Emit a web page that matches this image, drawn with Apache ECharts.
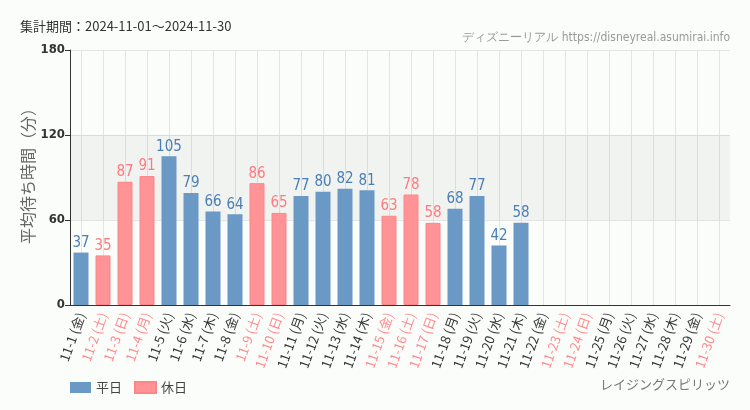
<!DOCTYPE html>
<html><head><meta charset="utf-8">
<script src="https://cdn.jsdelivr.net/npm/echarts@6/dist/echarts.min.js"></script>
<style>html,body{margin:0;padding:0;background:#fbfdfb;}#c{width:750px;height:410px;}</style>
</head><body><div id="c"></div>
<script>
const categories = ['11-1 (金)','11-2 (土)','11-3 (日)','11-4 (月)','11-5 (火)','11-6 (水)','11-7 (木)','11-8 (金)','11-9 (土)','11-10 (日)','11-11 (月)','11-12 (火)','11-13 (水)','11-14 (木)','11-15 (金)','11-16 (土)','11-17 (日)','11-18 (月)','11-19 (火)','11-20 (水)','11-21 (木)','11-22 (金)','11-23 (土)','11-24 (日)','11-25 (月)','11-26 (火)','11-27 (水)','11-28 (木)','11-29 (金)','11-30 (土)'];
const holidayFlags = [0,1,1,1,0,0,0,0,1,1,0,0,0,0,1,1,1,0,0,0,0,0,1,1,0,0,0,0,0,1];
const waitValues = [37,35,87,91,105,79,66,64,86,65,77,80,82,81,63,78,58,68,77,42,58,null,null,null,null,null,null,null,null,null];
const yTicks = [0,60,120,180];
const yAxisTitle = '平均待ち時間（分）';

const weekday = waitValues.map((v,i)=> holidayFlags[i] ? null : v);
const holiday = waitValues.map((v,i)=> holidayFlags[i] ? v : null);
const BLUE = '#6a99c5', PINK = '#ff9396';
const NARROW = '"Liberation Sans Narrow", "DejaVu Sans Condensed", "Roboto Condensed", Roboto, sans-serif';
const JP = '"Noto Sans CJK JP", sans-serif';
const chart = echarts.init(document.getElementById('c'));
chart.setOption({
  backgroundColor: '#fbfdfb',
  animation: false,
  title: [
    {text: '集計期間：2024-11-01～2024-11-30', left: 20, top: 20, padding: 0,
     textStyle: {fontSize: 13, fontWeight: 'normal', color: '#333', fontFamily: JP}},
    {text: 'ディズニーリアル https://disneyreal.asumirai.info', right: 20, top: 32, padding: 0,
     textStyle: {fontSize: 12, fontWeight: 'normal', color: '#999', fontFamily: NARROW}},
    {text: 'レイジングスピリッツ', right: 20, top: 378, padding: 0,
     textStyle: {fontSize: 13, fontWeight: 'normal', color: '#777', fontFamily: JP}}
  ],
  graphic: [{
    type: 'text', x: 28, y: 172, rotation: Math.PI / 2,
    style: {text: yAxisTitle, fontSize: 16, fill: '#666', fontFamily: JP, align: 'center', verticalAlign: 'middle'}
  }],
  legend: {
    left: 65, top: 376, itemWidth: 21, itemHeight: 11, itemGap: 12,
    textStyle: {fontSize: 13, color: '#444', fontFamily: JP},
    data: [{name: '平日', icon: 'rect'}, {name: '休日', icon: 'rect'}]
  },
  grid: {left: 70, right: 20, top: 50, bottom: 105},
  xAxis: {
    type: 'category', data: categories,
    axisLine: {lineStyle: {color: '#333'}},
    axisTick: {alignWithLabel: true, lineStyle: {color: '#333'}},
    splitLine: {show: true, alignWithLabel: true, lineStyle: {color: '#e4e4e4'}},
    axisLabel: {
      rotate: 70, interval: 0, fontSize: 13, margin: 8,
      fontFamily: JP,
      color: (v, i) => holidayFlags[i] ? '#ff8a8e' : '#333'
    }
  },
  yAxis: {
    type: 'value', min: 0, max: 180, interval: 60,
    axisLine: {show: true, lineStyle: {color: '#333'}},
    axisTick: {show: true, length: 5, lineStyle: {color: '#333'}},
    splitLine: {lineStyle: {color: '#e4e4e4'}},
    axisLabel: {fontSize: 13, color: '#333', fontWeight: 'bold', margin: 5, fontFamily: NARROW}
  },
  series: [
    {name: '平日', type: 'bar', stack: 's', data: weekday, barWidth: 15,
     itemStyle: {color: BLUE},
     label: {show: true, position: 'top', distance: 2, color: '#4a7fb5', fontSize: 15, fontFamily: NARROW},
     markArea: {silent: true, itemStyle: {color: 'rgba(0,0,0,0.04)'}, data: [[{yAxis: yTicks[1]}, {yAxis: yTicks[2]}]]}
    },
    {name: '休日', type: 'bar', stack: 's', data: holiday, barWidth: 15,
     itemStyle: {color: PINK, borderColor: '#ff8589', borderWidth: 1},
     label: {show: true, position: 'top', distance: 2, color: '#ff7a7f', fontSize: 15, fontFamily: NARROW}
    }
  ]
});
</script></body></html>
